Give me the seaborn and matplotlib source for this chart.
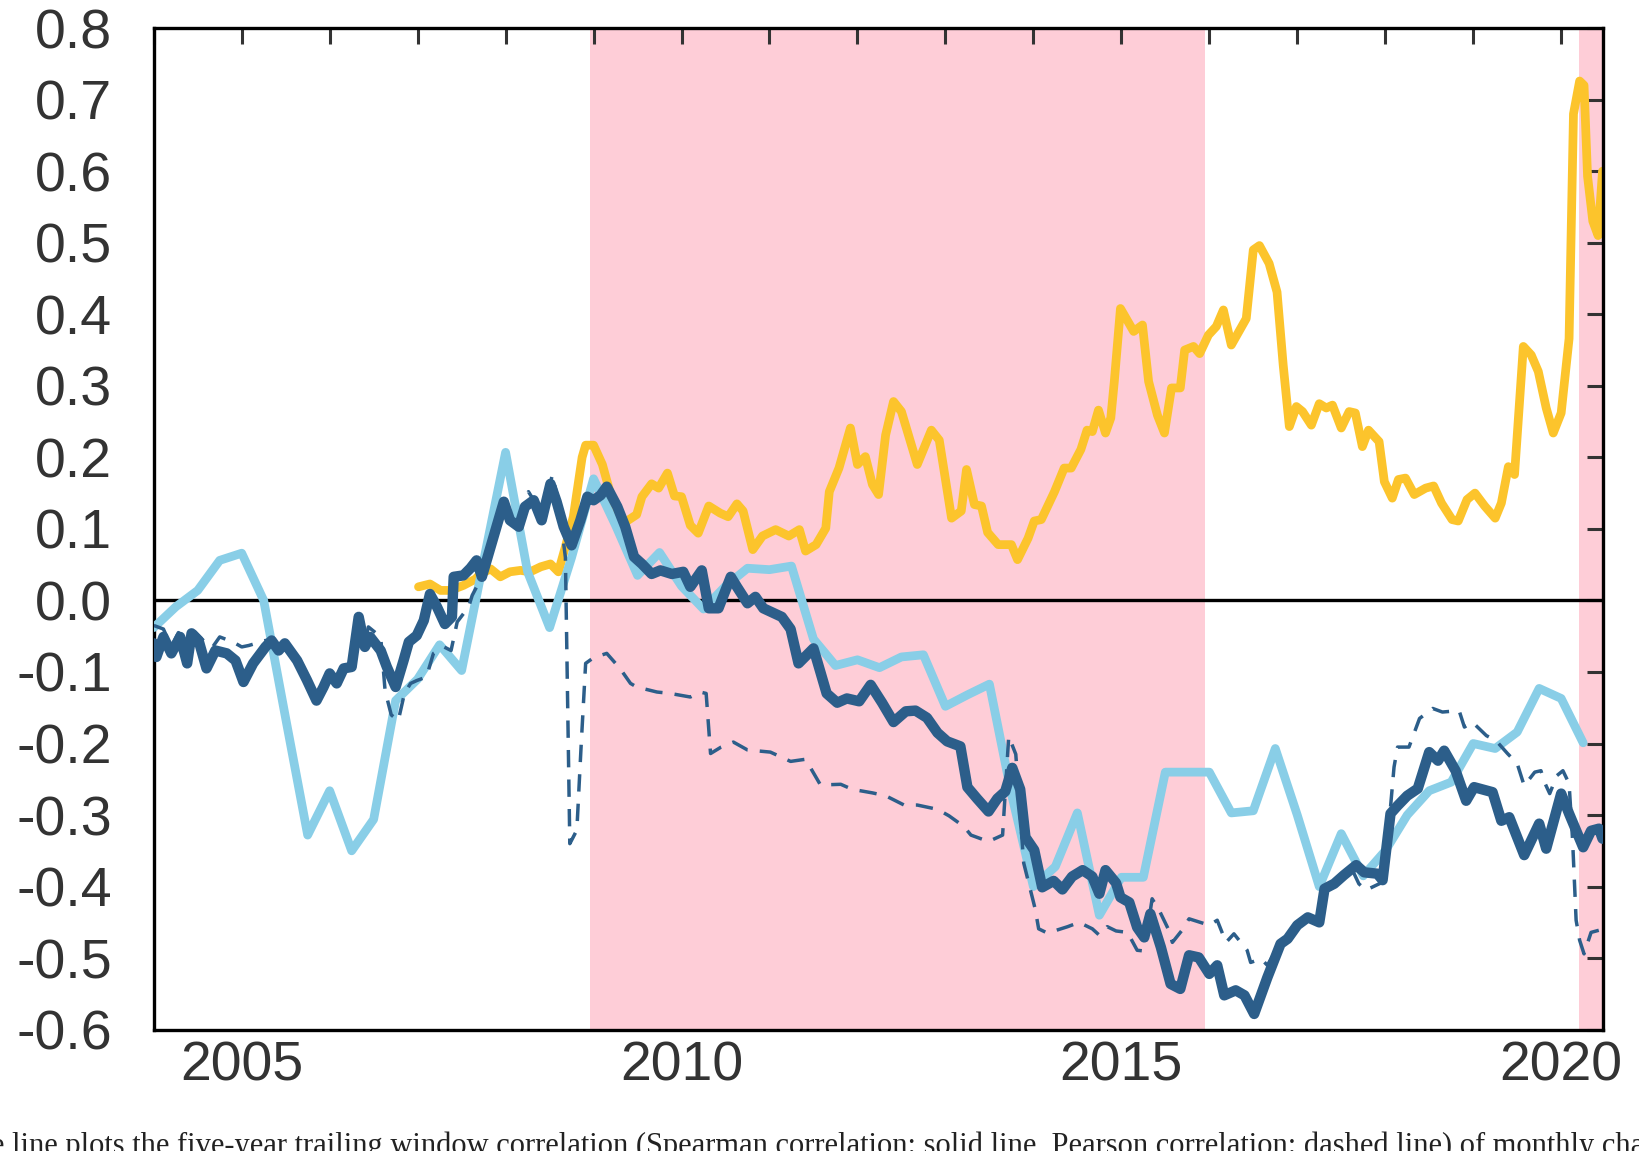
import numpy as np
import pandas as pd
import matplotlib
matplotlib.use("Agg")
import matplotlib.pyplot as plt
from matplotlib.ticker import FormatStrFormatter
import seaborn as sns

# periodos sombreados
sombra1 = (2008.96, 2015.95)
sombra2 = (2020.2, 2020.6)

# linea amarilla
amarillo_x = [2007.01, 2007.14, 2007.26, 2007.37, 2007.52, 2007.66, 2007.71, 2007.83, 2007.94, 2008.05,
              2008.17, 2008.28, 2008.40, 2008.51, 2008.60, 2008.68, 2008.77, 2008.87, 2008.91, 2009.00,
              2009.10, 2009.19, 2009.29, 2009.38, 2009.49, 2009.55, 2009.66, 2009.74, 2009.84, 2009.92,
              2010.00, 2010.10, 2010.19, 2010.31, 2010.44, 2010.53, 2010.63, 2010.70, 2010.81, 2010.92,
              2011.07, 2011.22, 2011.34, 2011.41, 2011.53, 2011.64, 2011.68, 2011.79, 2011.92, 2012.00,
              2012.09, 2012.17, 2012.24, 2012.32, 2012.41, 2012.50, 2012.68, 2012.84, 2012.93, 2013.07,
              2013.18, 2013.24, 2013.33, 2013.41, 2013.48, 2013.60, 2013.75, 2013.82, 2013.94, 2014.01,
              2014.09, 2014.24, 2014.35, 2014.43, 2014.54, 2014.61, 2014.67, 2014.74, 2014.82, 2014.88,
              2014.92, 2014.99, 2015.14, 2015.24, 2015.31, 2015.41, 2015.49, 2015.57, 2015.67, 2015.72,
              2015.82, 2015.89, 2015.99, 2016.08, 2016.16, 2016.25, 2016.42, 2016.50, 2016.57, 2016.68,
              2016.77, 2016.84, 2016.91, 2016.99, 2017.06, 2017.16, 2017.25, 2017.33, 2017.40, 2017.50,
              2017.59, 2017.66, 2017.74, 2017.81, 2017.93, 2017.99, 2018.08, 2018.15, 2018.23, 2018.33,
              2018.46, 2018.55, 2018.64, 2018.76, 2018.83, 2018.93, 2019.02, 2019.13, 2019.25, 2019.32,
              2019.40, 2019.47, 2019.57, 2019.66, 2019.74, 2019.83, 2019.91, 2020.00, 2020.09, 2020.14,
              2020.21, 2020.26, 2020.30, 2020.36, 2020.42, 2020.47]
amarillo_y = [0.019, 0.023, 0.014, 0.014, 0.021, 0.030, 0.037, 0.044, 0.033, 0.040,
              0.042, 0.040, 0.047, 0.051, 0.040, 0.075, 0.117, 0.200, 0.217, 0.217,
              0.190, 0.150, 0.112, 0.111, 0.120, 0.145, 0.163, 0.157, 0.178, 0.146,
              0.145, 0.105, 0.094, 0.132, 0.122, 0.117, 0.135, 0.125, 0.071, 0.090,
              0.099, 0.090, 0.099, 0.069, 0.078, 0.101, 0.152, 0.185, 0.241, 0.190,
              0.201, 0.162, 0.148, 0.231, 0.278, 0.264, 0.190, 0.238, 0.224, 0.115,
              0.125, 0.183, 0.134, 0.132, 0.095, 0.078, 0.078, 0.057, 0.087, 0.111,
              0.113, 0.152, 0.185, 0.185, 0.211, 0.238, 0.236, 0.266, 0.234, 0.255,
              0.306, 0.408, 0.376, 0.385, 0.306, 0.259, 0.234, 0.297, 0.297, 0.350,
              0.355, 0.345, 0.371, 0.383, 0.406, 0.357, 0.394, 0.490, 0.496, 0.471,
              0.431, 0.329, 0.243, 0.271, 0.264, 0.245, 0.275, 0.269, 0.273, 0.241,
              0.264, 0.262, 0.215, 0.238, 0.222, 0.166, 0.143, 0.169, 0.171, 0.148,
              0.157, 0.160, 0.136, 0.113, 0.111, 0.141, 0.150, 0.132, 0.115, 0.136,
              0.187, 0.176, 0.355, 0.343, 0.320, 0.269, 0.234, 0.262, 0.366, 0.680,
              0.726, 0.720, 0.593, 0.530, 0.510, 0.600]

# linea celeste (trimestral)
celeste_x = [2004.00, 2004.25, 2004.50, 2004.75, 2005.00, 2005.25, 2005.50, 2005.75, 2006.00, 2006.25,
             2006.50, 2006.75, 2007.00, 2007.25, 2007.50, 2007.75, 2008.00, 2008.25, 2008.50, 2008.75,
             2009.00, 2009.25, 2009.50, 2009.75, 2010.00, 2010.25, 2010.50, 2010.75, 2011.00, 2011.25,
             2011.50, 2011.75, 2012.00, 2012.25, 2012.50, 2012.75, 2013.00, 2013.25, 2013.50, 2013.75,
             2014.00, 2014.25, 2014.50, 2014.75, 2015.00, 2015.25, 2015.50, 2015.75, 2016.00, 2016.25,
             2016.50, 2016.75, 2017.00, 2017.25, 2017.50, 2017.75, 2018.00, 2018.25, 2018.50, 2018.75,
             2019.00, 2019.25, 2019.50, 2019.75, 2020.00, 2020.25]
celeste_y = [-0.038, -0.009, 0.014, 0.056, 0.066, 0.000, -0.165, -0.328, -0.266, -0.350,
             -0.306, -0.140, -0.110, -0.062, -0.098, 0.055, 0.207, 0.040, -0.038, 0.060,
             0.170, 0.105, 0.035, 0.067, 0.020, -0.012, 0.020, 0.045, 0.043, 0.048,
             -0.054, -0.091, -0.083, -0.094, -0.079, -0.076, -0.148, -0.132, -0.117, -0.270,
             -0.400, -0.372, -0.297, -0.440, -0.387, -0.387, -0.240, -0.240, -0.240, -0.297,
             -0.294, -0.207, -0.300, -0.400, -0.326, -0.385, -0.350, -0.300, -0.266, -0.254,
             -0.200, -0.207, -0.184, -0.123, -0.137, -0.199]

# linea azul solida (Spearman)
spearman_x = [2004.00, 2004.03, 2004.11, 2004.20, 2004.30, 2004.38, 2004.43, 2004.51, 2004.60, 2004.70,
              2004.83, 2004.93, 2005.02, 2005.13, 2005.27, 2005.34, 2005.42, 2005.49, 2005.63, 2005.74,
              2005.85, 2005.93, 2006.00, 2006.08, 2006.16, 2006.25, 2006.33, 2006.40, 2006.46, 2006.58,
              2006.65, 2006.75, 2006.84, 2006.90, 2006.99, 2007.07, 2007.14, 2007.22, 2007.31, 2007.39,
              2007.41, 2007.52, 2007.60, 2007.67, 2007.73, 2007.83, 2007.98, 2008.05, 2008.15, 2008.22,
              2008.32, 2008.41, 2008.51, 2008.58, 2008.66, 2008.75, 2008.85, 2008.93, 2009.00, 2009.08,
              2009.15, 2009.27, 2009.36, 2009.46, 2009.55, 2009.66, 2009.76, 2009.89, 2010.02, 2010.10,
              2010.23, 2010.31, 2010.42, 2010.56, 2010.63, 2010.75, 2010.84, 2010.93, 2011.14, 2011.24,
              2011.33, 2011.50, 2011.65, 2011.77, 2011.88, 2012.02, 2012.15, 2012.28, 2012.41, 2012.55,
              2012.66, 2012.79, 2012.91, 2013.02, 2013.17, 2013.25, 2013.36, 2013.49, 2013.59, 2013.68,
              2013.76, 2013.85, 2013.91, 2014.01, 2014.10, 2014.23, 2014.33, 2014.44, 2014.56, 2014.67,
              2014.75, 2014.82, 2014.94, 2014.99, 2015.09, 2015.18, 2015.26, 2015.33, 2015.45, 2015.56,
              2015.67, 2015.77, 2015.88, 2016.00, 2016.09, 2016.17, 2016.30, 2016.40, 2016.51, 2016.66,
              2016.81, 2016.89, 2017.00, 2017.12, 2017.25, 2017.31, 2017.42, 2017.53, 2017.67, 2017.76,
              2017.91, 2017.97, 2018.06, 2018.14, 2018.25, 2018.37, 2018.50, 2018.60, 2018.67, 2018.80,
              2018.92, 2019.01, 2019.22, 2019.32, 2019.41, 2019.58, 2019.75, 2019.83, 2020.00, 2020.09,
              2020.25, 2020.34, 2020.43, 2020.47]
spearman_y = [-0.060, -0.079, -0.051, -0.074, -0.051, -0.088, -0.046, -0.056, -0.095, -0.070,
              -0.074, -0.084, -0.114, -0.088, -0.065, -0.056, -0.070, -0.060, -0.084, -0.111,
              -0.140, -0.121, -0.102, -0.116, -0.095, -0.093, -0.023, -0.065, -0.051, -0.070,
              -0.093, -0.121, -0.084, -0.058, -0.049, -0.028, 0.009, -0.009, -0.033, -0.023,
              0.033, 0.035, 0.045, 0.056, 0.033, 0.075, 0.138, 0.112, 0.103, 0.131,
              0.140, 0.112, 0.163, 0.138, 0.103, 0.077, 0.112, 0.145, 0.140, 0.147,
              0.159, 0.131, 0.103, 0.061, 0.051, 0.037, 0.042, 0.037, 0.040, 0.019,
              0.042, -0.011, -0.011, 0.033, 0.019, -0.004, 0.005, -0.011, -0.023, -0.040,
              -0.088, -0.067, -0.130, -0.143, -0.137, -0.141, -0.118, -0.143, -0.170, -0.155,
              -0.154, -0.164, -0.185, -0.197, -0.204, -0.261, -0.277, -0.295, -0.277, -0.267,
              -0.234, -0.264, -0.331, -0.349, -0.401, -0.392, -0.404, -0.386, -0.377, -0.386,
              -0.410, -0.377, -0.395, -0.415, -0.422, -0.457, -0.471, -0.438, -0.485, -0.536,
              -0.543, -0.496, -0.499, -0.522, -0.510, -0.552, -0.545, -0.552, -0.578, -0.527,
              -0.480, -0.473, -0.454, -0.443, -0.450, -0.403, -0.396, -0.384, -0.370, -0.380,
              -0.382, -0.391, -0.298, -0.287, -0.273, -0.263, -0.212, -0.224, -0.210, -0.238,
              -0.280, -0.261, -0.268, -0.308, -0.303, -0.356, -0.312, -0.347, -0.270, -0.298,
              -0.345, -0.322, -0.319, -0.333]

# linea azul discontinua (Pearson)
pearson_x = [2004.00, 2004.11, 2004.20, 2004.28, 2004.36, 2004.47, 2004.58, 2004.67, 2004.75, 2004.90,
             2005.00, 2005.08, 2005.27, 2005.35, 2005.42, 2005.49, 2005.63, 2005.74, 2005.85, 2005.93,
             2006.00, 2006.08, 2006.16, 2006.25, 2006.33, 2006.40, 2006.44, 2006.58, 2006.63, 2006.70,
             2006.78, 2006.85, 2006.92, 2006.99, 2007.10, 2007.18, 2007.30, 2007.38, 2007.45, 2007.58,
             2007.62, 2007.73, 2007.83, 2007.98, 2008.05, 2008.15, 2008.26, 2008.32, 2008.41, 2008.53,
             2008.60, 2008.68, 2008.73, 2008.81, 2008.86, 2008.91, 2009.00, 2009.15, 2009.30, 2009.42,
             2009.49, 2009.72, 2009.87, 2010.10, 2010.21, 2010.28, 2010.33, 2010.45, 2010.59, 2010.75,
             2011.01, 2011.24, 2011.41, 2011.58, 2011.81, 2011.94, 2012.17, 2012.32, 2012.53, 2012.68,
             2012.91, 2013.04, 2013.21, 2013.29, 2013.49, 2013.65, 2013.72, 2013.80, 2013.89, 2014.02,
             2014.06, 2014.16, 2014.39, 2014.52, 2014.67, 2014.75, 2014.84, 2014.94, 2015.07, 2015.18,
             2015.26, 2015.35, 2015.43, 2015.54, 2015.58, 2015.69, 2015.77, 2016.00, 2016.09, 2016.19,
             2016.28, 2016.43, 2016.47, 2016.59, 2016.66, 2016.81, 2016.89, 2017.00, 2017.12, 2017.25,
             2017.34, 2017.53, 2017.62, 2017.70, 2017.78, 2017.95, 2018.05, 2018.10, 2018.14, 2018.27,
             2018.39, 2018.54, 2018.65, 2018.84, 2018.90, 2018.99, 2019.15, 2019.26, 2019.39, 2019.50,
             2019.58, 2019.70, 2019.77, 2019.81, 2019.87, 2019.95, 2020.02, 2020.09, 2020.13, 2020.17,
             2020.21, 2020.26, 2020.34, 2020.43, 2020.47]
pearson_y = [-0.035, -0.040, -0.065, -0.045, -0.050, -0.044, -0.058, -0.065, -0.051, -0.058,
             -0.065, -0.063, -0.056, -0.056, -0.068, -0.060, -0.084, -0.111, -0.140, -0.121,
             -0.102, -0.116, -0.095, -0.093, -0.030, -0.060, -0.037, -0.051, -0.126, -0.160,
             -0.168, -0.130, -0.116, -0.112, -0.107, -0.074, -0.065, -0.070, -0.030, -0.009,
             0.007, 0.033, 0.075, 0.140, 0.112, 0.103, 0.152, 0.140, 0.112, 0.175,
             0.140, 0.060, -0.340, -0.321, -0.200, -0.088, -0.080, -0.074, -0.095, -0.116,
             -0.121, -0.128, -0.130, -0.135, -0.128, -0.130, -0.214, -0.205, -0.198, -0.209,
             -0.212, -0.225, -0.222, -0.258, -0.257, -0.264, -0.269, -0.273, -0.286, -0.286,
             -0.292, -0.301, -0.316, -0.328, -0.337, -0.328, -0.190, -0.215, -0.367, -0.431,
             -0.459, -0.465, -0.456, -0.450, -0.459, -0.468, -0.456, -0.462, -0.464, -0.489,
             -0.490, -0.417, -0.433, -0.461, -0.478, -0.461, -0.445, -0.454, -0.447, -0.478,
             -0.466, -0.489, -0.506, -0.501, -0.510, -0.478, -0.470, -0.452, -0.440, -0.447,
             -0.405, -0.382, -0.375, -0.396, -0.405, -0.395, -0.303, -0.233, -0.205, -0.205,
             -0.165, -0.151, -0.156, -0.154, -0.177, -0.170, -0.189, -0.196, -0.214, -0.228,
             -0.259, -0.240, -0.238, -0.254, -0.270, -0.245, -0.238, -0.256, -0.335, -0.447,
             -0.475, -0.494, -0.464, -0.461, -0.462]

# etiquetas del eje y
ticks_y = [-0.6, -0.5, -0.4, -0.3, -0.2, -0.1, 0.0, 0.1, 0.2, 0.3, 0.4, 0.5, 0.6, 0.7, 0.8]

amarillo = pd.DataFrame({"fecha": amarillo_x, "corr": amarillo_y})
celeste = pd.DataFrame({"fecha": celeste_x, "corr": celeste_y})
spearman = pd.DataFrame({"fecha": spearman_x, "corr": spearman_y})
pearson = pd.DataFrame({"fecha": pearson_x, "corr": pearson_y})

sns.set_theme(style="white")
plt.rcParams["font.family"] = ["Liberation Sans", "DejaVu Sans"]
plt.rcParams["axes.unicode_minus"] = False

fig = plt.figure(figsize=(16.39, 11.51), dpi=100)
ax = fig.add_axes([0.0938, 0.1054, 0.8842, 0.8702])

ax.axvspan(*sombra1, color="#FECDD7", lw=0, zorder=0)
ax.axvspan(*sombra2, color="#FECDD7", lw=0, zorder=0)
ax.axhline(0, color="black", lw=2.4, zorder=1)

sns.lineplot(data=amarillo, x="fecha", y="corr", ax=ax, color="#FCC42C", lw=6.3,
             estimator=None, errorbar=None, zorder=2)
sns.lineplot(data=celeste, x="fecha", y="corr", ax=ax, color="#89CEE7", lw=6.3,
             estimator=None, errorbar=None, zorder=3)
sns.lineplot(data=pearson, x="fecha", y="corr", ax=ax, color="#2C5E8A", lw=2.5,
             linestyle=(0, (5, 3.5)), estimator=None, errorbar=None, zorder=4)
sns.lineplot(data=spearman, x="fecha", y="corr", ax=ax, color="#2C5E8A", lw=7.5,
             estimator=None, errorbar=None, zorder=5)

ax.set_xlim(2004.0, 2020.475)
ax.set_ylim(-0.6, 0.8)
ax.set_xticks([2005, 2010, 2015, 2020])
ax.set_xticks(np.arange(2004, 2021), minor=True)
ax.set_yticks(ticks_y)
ax.xaxis.set_major_formatter(FormatStrFormatter("%d"))
ax.yaxis.set_major_formatter(FormatStrFormatter("%.1f"))
ax.tick_params(which="both", direction="in", length=11.5, width=2.2, color="#333333",
               top=True, right=True, labelsize=40, labelcolor="#333333")
ax.tick_params(axis="x", pad=8)
ax.tick_params(axis="y", pad=30)
ax.set_xlabel("")
ax.set_ylabel("")
for s in ax.spines.values():
    s.set_color("black")
    s.set_linewidth(2.4)

# pie de figura, cortado como en el original
fig.text(-0.026, -0.003, "The line plots the five-year trailing window correlation (Spearman correlation: "
         "solid line, Pearson correlation: dashed line) of monthly changes",
         family=["Liberation Serif", "DejaVu Serif"], fontsize=22, color="#222222", va="baseline")

fig.savefig("out.png", dpi=100)
